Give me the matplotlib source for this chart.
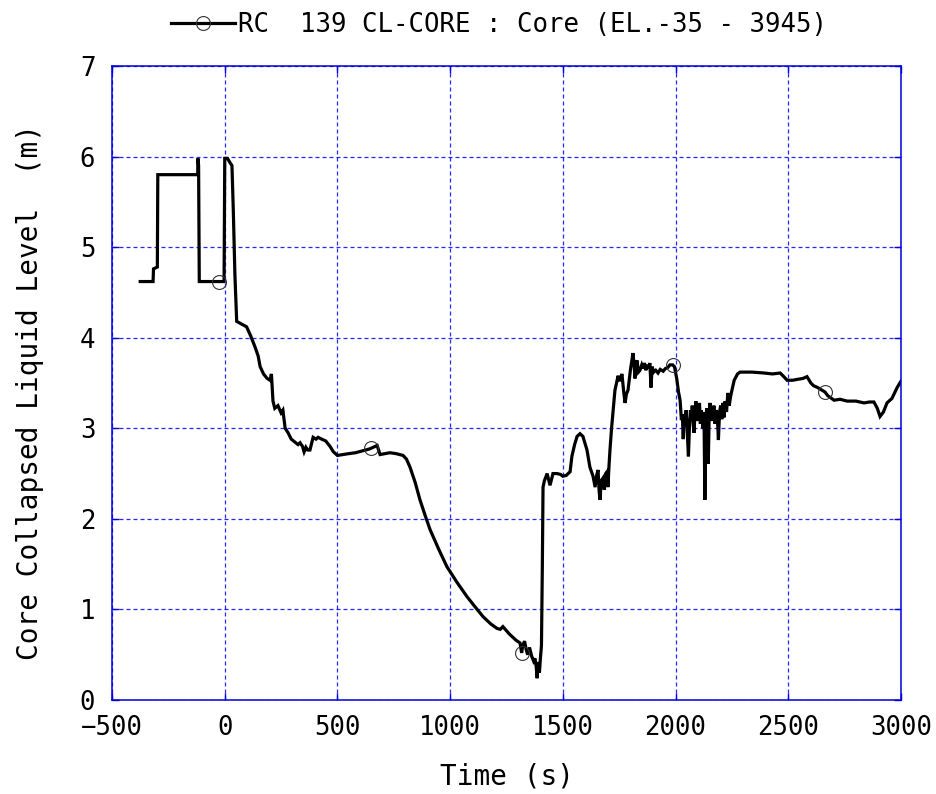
import numpy as np
import matplotlib
matplotlib.use("Agg")
import matplotlib.pyplot as plt

plt.rcParams['font.family'] = ['DejaVu Sans Mono', 'Noto Sans CJK JP']

# --- Core collapsed liquid level trace, split by test phase ---
# steady state, blowdown and early boil-off
t_pre = [-375, -318, -316, -299, -297, -120, -119, -116, -113, -25, -3, 0, 12, 24, 32, 38,
         45, 53, 75, 97, 115, 134, 148, 157, 172, 188, 201, 207, 214, 222, 236, 250,
         258, 268, 281, 295, 310, 325, 334, 345, 352, 360, 368, 378, 392, 405, 414, 430,
         448, 467, 482, 500, 525]
y_pre = [4.62, 4.62, 4.76, 4.78, 5.80, 5.80, 5.98, 5.90, 4.62, 4.62, 4.62, 5.98, 5.98, 5.93, 5.90, 5.40,
         4.70, 4.18, 4.15, 4.12, 4.02, 3.90, 3.80, 3.68, 3.60, 3.55, 3.53, 3.60, 3.30, 3.22, 3.25, 3.17,
         3.20, 3.00, 2.95, 2.88, 2.85, 2.82, 2.84, 2.80, 2.74, 2.79, 2.76, 2.76, 2.90, 2.88, 2.90, 2.88,
         2.86, 2.80, 2.74, 2.70, 2.71]

# core uncovery down to the minimum level, then refill
t_drop = [550, 580, 610, 640, 650, 668, 676, 689, 710, 733, 760, 791, 806, 822, 845, 866,
          890, 911, 950, 986, 1030, 1075, 1110, 1146, 1180, 1208, 1222, 1234, 1262, 1292, 1310, 1317,
          1322, 1330, 1338, 1344, 1352, 1362, 1370, 1376, 1382, 1386, 1390, 1396, 1400, 1405, 1409, 1412,
          1418, 1430, 1436, 1443, 1456]
y_drop = [2.72, 2.73, 2.75, 2.77, 2.78, 2.80, 2.81, 2.71, 2.72, 2.73, 2.72, 2.70, 2.66, 2.57, 2.40, 2.21,
          2.03, 1.88, 1.66, 1.47, 1.30, 1.14, 1.03, 0.92, 0.84, 0.79, 0.78, 0.81, 0.73, 0.66, 0.63, 0.52,
          0.60, 0.65, 0.55, 0.50, 0.58, 0.48, 0.43, 0.46, 0.36, 0.24, 0.42, 0.30, 0.45, 0.60, 1.50, 2.35,
          2.42, 2.50, 2.44, 2.37, 2.50]

# oscillatory recovery period
t_osc = [1474, 1490, 1500, 1515, 1532, 1540, 1552, 1563, 1576, 1589, 1600, 1607, 1620, 1634, 1643, 1650,
         1656, 1661, 1665, 1670, 1678, 1684, 1690, 1696, 1700, 1705, 1709, 1716, 1722, 1731, 1738, 1745,
         1752, 1762, 1770, 1776, 1782, 1789, 1800, 1811, 1816, 1820, 1825, 1829, 1835, 1842, 1850, 1856,
         1862, 1868, 1874, 1880, 1886, 1891, 1896, 1903, 1912, 1922, 1932, 1945, 1955, 1965, 1975, 1987,
         1995, 2005, 2013, 2020, 2026, 2030, 2034, 2038, 2042, 2047, 2052, 2057, 2062, 2066, 2070, 2074,
         2078, 2082, 2086, 2090, 2094, 2098, 2102, 2106, 2110, 2114, 2118, 2122, 2126, 2130, 2134, 2138,
         2142, 2145, 2149, 2153, 2157, 2161, 2165, 2170, 2175, 2180, 2185, 2190, 2195, 2200, 2205, 2210,
         2215, 2220, 2226, 2232, 2238, 2244, 2250, 2260, 2275, 2286, 2304]
y_osc = [2.50, 2.49, 2.47, 2.48, 2.52, 2.69, 2.82, 2.91, 2.94, 2.91, 2.82, 2.76, 2.57, 2.47, 2.35, 2.48,
         2.54, 2.30, 2.21, 2.42, 2.45, 2.32, 2.50, 2.52, 2.35, 2.60, 2.76, 3.00, 3.17, 3.42, 3.50, 3.58,
         3.52, 3.60, 3.40, 3.28, 3.38, 3.42, 3.65, 3.83, 3.70, 3.55, 3.72, 3.75, 3.62, 3.64, 3.70, 3.66,
         3.72, 3.64, 3.70, 3.66, 3.72, 3.45, 3.68, 3.62, 3.64, 3.61, 3.65, 3.63, 3.66, 3.67, 3.70, 3.70,
         3.68, 3.55, 3.40, 3.31, 3.09, 3.15, 2.88, 3.15, 3.10, 3.20, 2.95, 2.69, 3.05, 3.20, 3.10, 3.25,
         3.05, 2.95, 3.18, 3.30, 3.08, 3.22, 3.12, 3.28, 3.05, 3.20, 3.10, 3.00, 3.18, 2.21, 3.05, 3.22,
         3.10, 2.61, 3.15, 3.28, 3.08, 3.22, 3.10, 3.25, 3.05, 3.20, 3.15, 2.87, 3.18, 3.25, 3.10, 3.28,
         3.12, 3.30, 3.18, 3.39, 3.25, 3.35, 3.42, 3.53, 3.60, 3.62, 3.62]

# late quasi-steady period
t_late = [2340, 2393, 2430, 2464, 2480, 2495, 2520, 2540, 2565, 2583, 2600, 2612, 2630, 2663, 2675, 2703,
          2730, 2761, 2800, 2836, 2860, 2880, 2895, 2907, 2922, 2938, 2960, 2983, 3000]
y_late = [3.62, 3.61, 3.60, 3.61, 3.57, 3.53, 3.53, 3.54, 3.55, 3.57, 3.50, 3.47, 3.45, 3.40, 3.36, 3.31,
          3.32, 3.30, 3.30, 3.28, 3.29, 3.29, 3.22, 3.13, 3.18, 3.28, 3.33, 3.45, 3.52]

# times at which the series symbol is drawn
marker_times = [-25, 650, 1317, 1987, 2663]

series_label = "RC  139 CL-CORE : Core (EL.-35 - 3945)"
x_label = "Time (s)"
y_label = "Core Collapsed Liquid Level  (m)"
x_ticks = [-500, 0, 500, 1000, 1500, 2000, 2500, 3000]
y_ticks = [0, 1, 2, 3, 4, 5, 6, 7]

time = np.array(t_pre + t_drop + t_osc + t_late, dtype=float)
level = np.array(y_pre + y_drop + y_osc + y_late, dtype=float)
assert len(time) == len(level)
mark_idx = [int(np.argmin(np.abs(time - mt))) for mt in marker_times]

fig = plt.figure(figsize=(9.36, 7.94), dpi=100)
ax = fig.add_axes([0.1197, 0.1184, 0.8429, 0.7985])

ax.plot(time, level, color='black', lw=2.3, solid_joinstyle='miter',
        marker='o', markevery=mark_idx, markersize=10, markerfacecolor='none',
        markeredgecolor='#333333', markeredgewidth=0.8, label=series_label)

ax.set_xlim(-500, 3000)
ax.set_ylim(0, 7)
ax.set_xticks(x_ticks)
ax.set_yticks(y_ticks)
ax.set_xticklabels([f"{v}".replace("-", "\u2212") for v in x_ticks])
ax.set_yticklabels([f"{v}" for v in y_ticks])

ax.grid(True, color='#0000ff', lw=0.9, linestyle=(0, (3.2, 2.4)), alpha=0.85)
for sp in ax.spines.values():
    sp.set_color('#0000dd')
    sp.set_linewidth(1.1)
ax.tick_params(direction='in', length=5, width=1.0, color='#0000dd',
               top=True, right=True, labelsize=18.5, labelcolor='black')
ax.tick_params(axis='x', pad=11)
ax.tick_params(axis='y', pad=12)

ax.set_xlabel(x_label, fontsize=20, labelpad=15)
ax.set_ylabel(y_label, fontsize=20)
ax.yaxis.set_label_coords(-0.086, 0.485)

leg = ax.legend(loc='lower center', bbox_to_anchor=(0.49, 1.022), frameon=False,
                fontsize=18.5, handlelength=2.5, handletextpad=0.1, borderaxespad=0.15)

fig.savefig("out.png", dpi=100)
